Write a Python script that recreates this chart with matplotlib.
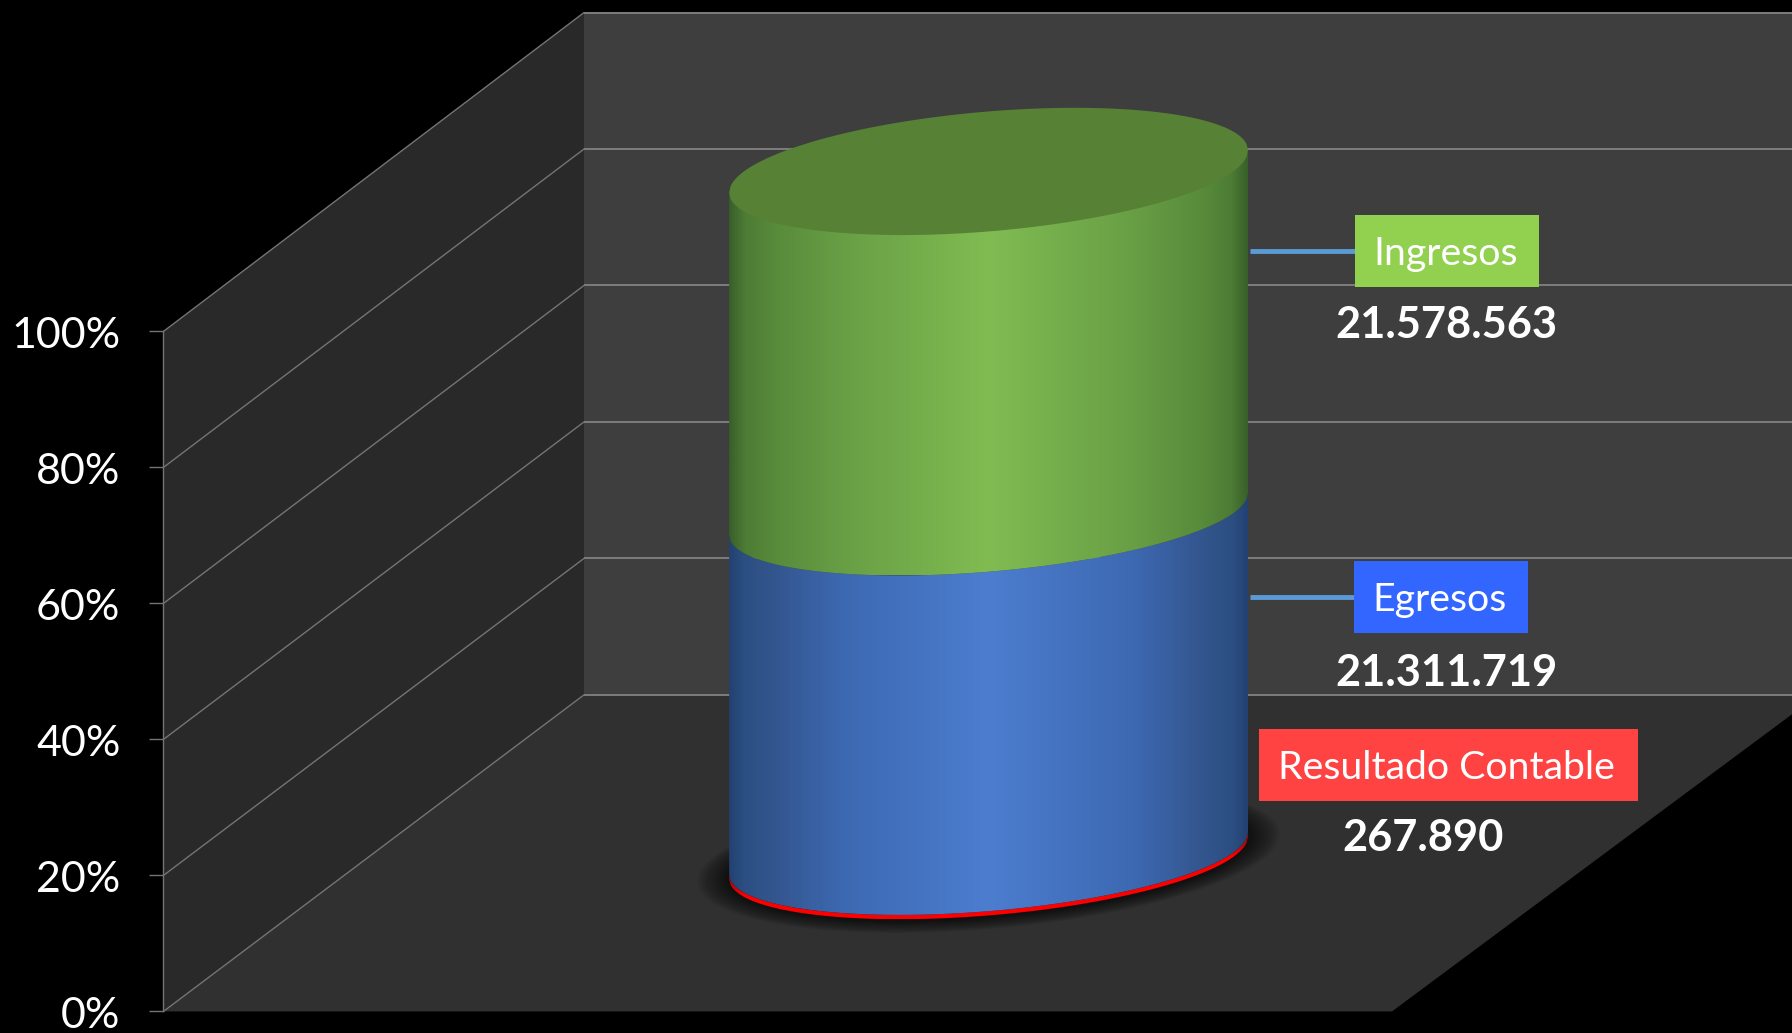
import numpy as np
import matplotlib
matplotlib.use("Agg")
import matplotlib.pyplot as plt
from matplotlib.colors import LinearSegmentedColormap
from matplotlib.patches import Polygon, Rectangle
from matplotlib.transforms import ScaledTranslation

# ---- data ----
categories = ["Resultado Contable", "Egresos", "Ingresos"]
values = [267890, 21311719, 21578563]
value_labels = ["267.890", "21.311.719", "21.578.563"]
axis_ticks = [0, 20, 40, 60, 80, 100]
axis_labels = ["0%", "20%", "40%", "60%", "80%", "100%"]

W, H = 1792, 1033
S = W / 1568  # layout measured on a 1568-wide view
plt.rcParams["font.family"] = ["Lato", "DejaVu Sans"]
fig = plt.figure(figsize=(W / 100, H / 100), dpi=100, facecolor="black")


def full_axes(z):
    a = fig.add_axes([0, 0, 1, 1], zorder=z)
    a.set_facecolor("none")
    a.axis("off")
    return a


# ---- walls and floor in pixel coordinates ----
bg = full_axes(0)
bg.set_xlim(0, W)
bg.set_ylim(H, 0)
FX, BX = 143 * S, 511 * S           # front and back of side wall
F0, F100 = 885 * S, 290 * S         # front y for 0 and 100 %
B0, B100 = 608 * S, 11 * S          # back y for 0 and 100 %
bg.add_patch(Polygon([(FX, F0), (FX, F100), (BX, B100), (BX, B0)], fc="#292929", ec="none"))
bg.add_patch(Rectangle((BX, B100), W - BX, B0 - B100, fc="#3e3e3e", ec="none"))
bg.add_patch(Polygon([(FX, F0), (BX, B0), (W, B0), (W, 625 * S), (1218 * S, F0)], fc="#303030", ec="none"))
for p in axis_ticks:
    f = F0 + (F100 - F0) * p / 100
    b = B0 + (B100 - B0) * p / 100
    bg.plot([BX, W], [b, b], color="#7d7d7d", lw=1.4, solid_capstyle="butt")
    bg.plot([FX, BX], [f, b], color="#747474", lw=1.0)

# ---- percent axis ----
ax_y = fig.add_axes([FX / W, 1 - F0 / H, 0.0001, (F0 - F100) / H], zorder=1)
ax_y.set_facecolor("none")
ax_y.set_ylim(0, 100)
ax_y.set_xticks([])
ax_y.set_yticks(axis_ticks)
ax_y.set_yticklabels(axis_labels, color="white", fontsize=31)
ax_y.tick_params(axis="y", length=10, width=1.0, color="#747474", pad=21)
for lab in ax_y.get_yticklabels():
    lab.set_transform(lab.get_transform() + ScaledTranslation(0, -1.5 / 100, fig.dpi_scale_trans))
for side in ("top", "right", "bottom"):
    ax_y.spines[side].set_visible(False)
ax_y.spines["left"].set_color("#747474")
ax_y.spines["left"].set_linewidth(1.0)

# ---- cylinder: x in pixels, y in percent of total ----
cyl = full_axes(2)
CX, A = 865 * S, 227 * S
BASE_PX, TOP_PX = 750.5 * S, 149 * S
PCT_PX = (BASE_PX - TOP_PX) / 100
cyl.set_xlim(0, W)
ylim = ((BASE_PX - H) / PCT_PX, BASE_PX / PCT_PX)
cyl.set_ylim(*ylim)
SHEAR = 18.5 * S / PCT_PX
BODY_B = 50.5 * S / PCT_PX
CAP_B = 52.5 * S / PCT_PX
CAP_DROP = 1 * S / PCT_PX

u = np.linspace(-1, 1, 361)
xs = CX + A * u


def lower_arc(p, b=BODY_B):
    return p + SHEAR * u - b * np.sqrt(1 - u ** 2)


def upper_arc(p, b=BODY_B):
    return p + SHEAR * u + b * np.sqrt(1 - u ** 2)


def ramp(dark, mid1, mid2, mid3, light):
    return LinearSegmentedColormap.from_list(
        "r", [(0, dark), (0.03, mid1), (0.09, mid2), (0.22, mid3), (0.5, light),
              (0.78, mid3), (0.91, mid2), (0.97, mid1), (1, dark)])


ramps = {
    "Ingresos": ramp("#39602a", "#4d7c35", "#598b3b", "#689f45", "#80bc52"),
    "Egresos": ramp("#234272", "#2c4f82", "#34568f", "#3d69b2", "#4c7dcf"),
    "Resultado Contable": ramp("#c00000", "#ff0000", "#ff0000", "#ff0000", "#ff0000"),
}

pct = 100 * np.array(values, dtype=float) / sum(values)
tops = np.cumsum(pct)
bottoms = tops - pct

# contact shadow
for k in np.linspace(1, 0, 14):
    ex = A + (2 + 26 * k) * S
    sx = CX + ex * u
    ext_b = BODY_B + (2 + 10 * k) * S / PCT_PX
    low = bottoms[0] + SHEAR * u * (ex / A) - ext_b * np.sqrt(1 - u ** 2)
    up = bottoms[0] + SHEAR * u * (ex / A) + ext_b * np.sqrt(1 - u ** 2)
    cyl.fill(np.r_[sx, sx[::-1]], np.r_[low, up[::-1]], color="black", alpha=0.055, lw=0, zorder=1)

grad = np.linspace(0, 1, 512).reshape(1, -1)
for cat, lo, hi in zip(categories, bottoms, tops):
    lo_arc = lower_arc(lo)
    hi_arc = lower_arc(hi)
    poly = Polygon(np.c_[np.r_[xs, xs[::-1]], np.r_[lo_arc, hi_arc[::-1]]],
                   closed=True, transform=cyl.transData, fc="none", ec="none")
    cyl.add_patch(poly)
    im = cyl.imshow(grad, cmap=ramps[cat], aspect="auto", zorder=3,
                    extent=(xs[0], xs[-1], lo_arc.min(), hi_arc.max()))
    im.set_clip_path(poly)
cyl.set_xlim(0, W)
cyl.set_ylim(*ylim)

# top cap
cap_lo = lower_arc(tops[-1] - CAP_DROP, CAP_B)
cap_hi = upper_arc(tops[-1] - CAP_DROP, CAP_B)
cyl.fill(np.r_[xs, xs[::-1]], np.r_[cap_lo, cap_hi[::-1]], color="#578135", lw=0, zorder=4)

# ---- labels in pixel coordinates ----
top = full_axes(3)
top.set_xlim(0, W)
top.set_ylim(H, 0)
boxes = {
    "Ingresos": (1186, 1347, 188, 251, "#92d050"),
    "Egresos": (1185, 1337, 491, 554, "#3366ff"),
    "Resultado Contable": (1102, 1433, 638, 701, "#ff4343"),
}
number_pos = {
    "Ingresos": (1266, 284),
    "Egresos": (1266, 589),
    "Resultado Contable": (1245, 733),
}
for cat, txt in zip(categories, value_labels):
    x0, x1, y0, y1, c = boxes[cat]
    top.add_patch(Rectangle((x0 * S, y0 * S), (x1 - x0) * S, (y1 - y0) * S, fc=c, ec="none", zorder=3))
    top.text(((x0 + x1) / 2 - 1.5) * S, ((y0 + y1) / 2 + 2.5) * S, cat, color="white", fontsize=28.3,
             ha="center", va="center", zorder=4)
    nx, ny = number_pos[cat]
    top.text(nx * S, ny * S, txt, color="white", fontsize=31.2, fontweight="bold",
             ha="center", va="center", zorder=4)
    if cat != "Resultado Contable":
        ymid = (y0 + y1) / 2 * S
        top.plot([1094 * S, x0 * S], [ymid, ymid], color="#5b9bd5", lw=3.5, solid_capstyle="butt", zorder=2)

fig.savefig("out.png", dpi=100, facecolor="black")
